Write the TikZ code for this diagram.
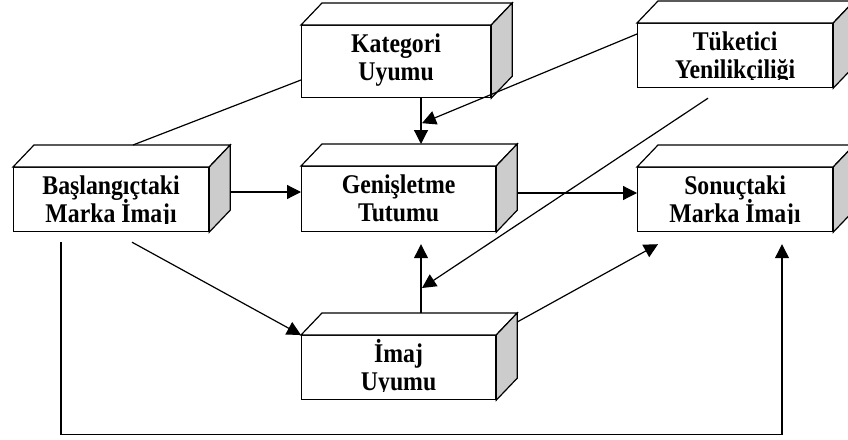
\documentclass[tikz,border=0pt]{standalone}
\usepackage{fontspec}
\setmainfont{Liberation Serif}[FakeStretch=0.88]
\usetikzlibrary{arrows.meta,calc}
\definecolor{boxgray}{gray}{0.8}

\tikzset{
  face/.style={draw, line width=1.2pt, line join=miter},
  frontface/.style={face, fill=white, inner sep=0pt, anchor=north west},
  boxtext/.style={font=\bfseries\fontsize{27}{27}\selectfont, anchor=base, inner sep=0pt},
  conn/.style={line width=1.2pt},
  arr/.style={conn, -{Triangle[length=14pt,width=14pt]}}
}

% a solid block: name, x, y (top-left of the front face), width, height, two text lines
\newcommand\solidbox[7]{%
  \node[frontface, minimum width=#4pt, minimum height=#5pt] (#1) at (#2,#3) {};
  \draw[face, fill=white] (#1.north west) -- ++(21,-22)
      -- ([shift={(21,-22)}]#1.north east) -- (#1.north east) -- cycle;
  \draw[face, fill=boxgray] (#1.north east) -- ++(21,-22)
      -- ([shift={(21,-22)}]#1.south east) -- (#1.south east) -- cycle;
  \begin{scope}
    \clip (#1.north west) rectangle ([yshift=9pt]#1.south east);
    \node[boxtext] (#1-l1) at ($(#1.north)+(0,27.5)$) {#6};
    \node[boxtext] (#1-l2) at ($(#1.north)+(0,55)$) {#7};
  \end{scope}
}

\begin{document}
\begin{tikzpicture}[x=1pt, y=-1pt]
\useasboundingbox (0,0) rectangle (848,439);

\solidbox{kat}{301}{25}{189}{72}{Kategori}{Uyumu}
\solidbox{tuk}{637}{23}{195}{64}{Tüketici}{Yenilikçiliği}
\solidbox{bas}{13}{167}{195}{64}{Başlangıçtaki}{Marka İmajı}
\solidbox{gen}{301}{166}{194}{65}{Genişletme}{Tutumu}
\solidbox{son}{637}{167}{195}{64}{Sonuçtaki}{Marka İmajı}
\solidbox{ima}{301}{335}{194}{64}{İmaj}{Uyumu}

% meeting points on the two vertical arrows
\coordinate (kgmid) at ($(kat.south west)+(121,25)$);
\coordinate (igmid) at ($(ima.north west)+(121,-47)$);
\coordinate (loopcorner) at ($(bas.south west)+(48,202)$);

% horizontal flow through the middle row
\draw[arr] ($(bas.north east)+(21,25)$) coordinate (bg0) -- (bg0 -| gen.west);
\draw[arr] ($(gen.north east)+(21,27)$) coordinate (gs0) -- (gs0 -| son.west);

% into the attitude box from above and below
\draw[arr] ($(kat.south west)+(120,0)$) -- ($(gen.north west)+(120,-22)$);
\draw[arr] ($(ima.north west)+(120,-22)$) -- ($(gen.south west)+(120,12)$);

% consumer innovativeness
\draw[arr] ($(tuk.north west)+(0,11)$) -- (kgmid);
\draw[arr] ($(tuk.south west)+(71,10)$) -- (igmid);

% initial brand image links
\draw[conn] ($(kat.north west)+(0,55)$) -- ($(bas.north west)+(120,-22)$);
\draw[arr] ($(bas.south west)+(119,10)$) -- (ima.north west);
\draw[arr] ($(ima.north east)+(21,-13)$) -- ($(son.south west)+(21,12)$);
\draw[arr] ($(bas.south west)+(48,10)$) -- (loopcorner) -| ($(son.south west)+(145,12)$);

\end{tikzpicture}
\end{document}
